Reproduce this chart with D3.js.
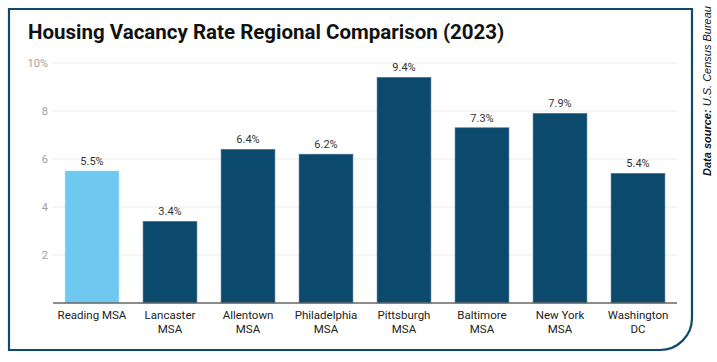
<!DOCTYPE html>
<html>
<head>
<meta charset="utf-8">
<script src="https://cdn.jsdelivr.net/npm/d3@7"></script>
<style>
  body { margin: 0; background: #fff; }
  svg { display: block; }
</style>
</head>
<body>
<svg width="717" height="362"></svg>
<script>
var areas = ["Reading MSA", "Lancaster MSA", "Allentown MSA", "Philadelphia MSA", "Pittsburgh MSA", "Baltimore MSA", "New York MSA", "Washington DC"];
var labelLines = [["Reading MSA"], ["Lancaster", "MSA"], ["Allentown", "MSA"], ["Philadelphia", "MSA"], ["Pittsburgh", "MSA"], ["Baltimore", "MSA"], ["New York", "MSA"], ["Washington", "DC"]];
var rates = [5.5, 3.4, 6.4, 6.2, 9.4, 7.3, 7.9, 5.4];
var yTicks = [2, 4, 6, 8, 10];

var svg = d3.select("svg");
var margin = {top: 63, right: 40, bottom: 59, left: 53},
    width = 677 - margin.left,
    height = 303 - margin.top;

// frame: square corners except bottom right
var r = 32, fx0 = 9, fy0 = 9, fx1 = 692, fy1 = 350;
svg.append("path")
    .attr("d", "M" + fx0 + "," + fy1 + "V" + fy0 + "H" + fx1 + "V" + (fy1 - r) +
      "A" + r + "," + r + " 0 0 1 " + (fx1 - r) + "," + fy1 + "Z")
    .attr("fill", "none")
    .attr("stroke", "#0d4a6e")
    .attr("stroke-width", 2.2);

svg.append("text")
    .attr("x", 28)
    .attr("y", 39)
    .attr("font-family", "Roboto, sans-serif")
    .attr("font-weight", "bold")
    .attr("font-size", "20.5px")
    .attr("fill", "#111")
    .text("Housing Vacancy Rate Regional Comparison (2023)");

var src = svg.append("text")
    .attr("transform", "translate(711,176) rotate(-90)")
    .attr("font-family", "Liberation Sans, Arial, sans-serif")
    .attr("font-style", "italic")
    .attr("font-size", "11px")
    .attr("fill", "#111");
src.append("tspan").attr("font-weight", "bold").text("Data source: ");
src.append("tspan").text("U.S. Census Bureau");

var x = d3.scaleBand().domain(areas).range([0, width]).paddingInner(0.31).paddingOuter(0.155);
var y = d3.scaleLinear().domain([0, 10]).range([height, 0]);

var g = svg.append("g")
    .attr("transform", "translate(" + margin.left + "," + margin.top + ")");

g.selectAll(".grid")
    .data(yTicks)
  .enter().append("line")
    .attr("class", "grid")
    .attr("x1", 0).attr("x2", width)
    .attr("y1", function(d) { return y(d); })
    .attr("y2", function(d) { return y(d); })
    .attr("stroke", "#ebebeb")
    .attr("stroke-width", 1);

g.selectAll(".ytick")
    .data(yTicks)
  .enter().append("text")
    .attr("class", "ytick")
    .attr("x", -5)
    .attr("y", function(d) { return y(d); })
    .attr("dy", "0.35em")
    .attr("text-anchor", "end")
    .attr("font-family", "Roboto, sans-serif")
    .attr("font-size", "11px")
    .attr("fill", "#a0a0a0")
    .text(function(d) { return d === 10 ? "10%" : d; });

g.selectAll(".bar")
    .data(rates)
  .enter().append("rect")
    .attr("class", "bar")
    .attr("x", function(d, i) { return x(areas[i]); })
    .attr("width", x.bandwidth())
    .attr("y", function(d) { return y(d); })
    .attr("height", function(d) { return height - y(d); })
    .attr("fill", function(d, i) { return i === 0 ? "#6ec8ef" : "#0b4a6d"; })
    .attr("stroke", function(d, i) { return i === 0 ? "#9ad8f3" : "#3d6e8b"; })
    .attr("stroke-width", 0.6);

g.selectAll(".val")
    .data(rates)
  .enter().append("text")
    .attr("class", "val")
    .attr("x", function(d, i) { return x(areas[i]) + x.bandwidth() / 2; })
    .attr("y", function(d) { return y(d) - 6; })
    .attr("text-anchor", "middle")
    .attr("font-family", "Roboto, sans-serif")
    .attr("font-size", "11px")
    .attr("fill", "#333")
    .text(function(d) { return d.toFixed(1) + "%"; });

g.append("line")
    .attr("x1", 0).attr("x2", width)
    .attr("y1", height).attr("y2", height)
    .attr("stroke", "#666")
    .attr("stroke-width", 1.5);

var xl = g.selectAll(".xlab")
    .data(labelLines)
  .enter().append("text")
    .attr("class", "xlab")
    .attr("text-anchor", "middle")
    .attr("font-family", "Roboto, sans-serif")
    .attr("font-size", "11.5px")
    .attr("fill", "#222");
xl.selectAll("tspan")
    .data(function(d, i) { return d.map(function(t) { return {t: t, i: i}; }); })
  .enter().append("tspan")
    .attr("x", function(d) { return x(areas[d.i]) + x.bandwidth() / 2; })
    .attr("y", function(d, j) { return height + 16 + j * 14; })
    .text(function(d) { return d.t; });
</script>
</body>
</html>
